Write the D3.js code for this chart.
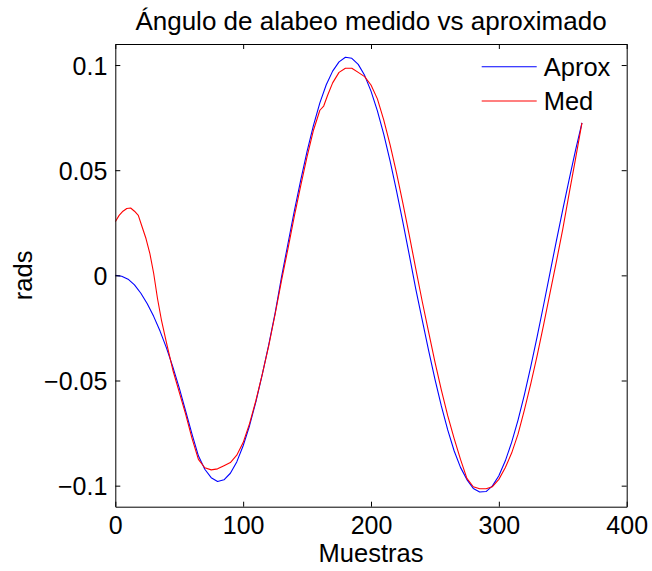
<!DOCTYPE html>
<html>
<head>
<meta charset="utf-8">
<script src="https://cdn.jsdelivr.net/npm/d3@7"></script>
<style>
  body { margin: 0; background: #fff; }
  #chart { width: 652px; height: 571px; }
  text { font-family: "Liberation Sans", Arial, Helvetica, sans-serif; fill: #000; }
</style>
</head>
<body>
<div id="chart"></div>
<script>
// samples
const aproxX = [0,5,10,15,20,25,30,35,40,45,50,55,60,65,70,75,80,85,90,95,100,105,110,115,120,125,130,135,140,145,150,155,160,165,170,175,180,185,190,195,200,205,210,215,220,225,230,235,240,245,250,255,260,265,270,275,280,285,290,295,300,305,310,315,320,325,330,335,340,345,350,355,360,365];
const aproxY = [0,-0.0004,-0.0018,-0.0045,-0.0085,-0.0135,-0.0195,-0.0265,-0.0345,-0.0435,-0.0535,-0.0645,-0.0755,-0.0858,-0.0922,-0.0962,-0.098,-0.0972,-0.0941,-0.0887,-0.081,-0.0715,-0.060,-0.047,-0.033,-0.018,-0.0008,0.0149,0.0305,0.0452,0.059,0.0713,0.082,0.0906,0.0971,0.1015,0.1037,0.1032,0.1003,0.0951,0.0876,0.0782,0.067,0.0542,0.0401,0.0251,0.0095,-0.0064,-0.021,-0.0356,-0.0493,-0.0621,-0.0735,-0.0834,-0.0913,-0.0971,-0.1013,-0.103,-0.1028,-0.1001,-0.0953,-0.0883,-0.0794,-0.0688,-0.0567,-0.0433,-0.029,-0.0141,0.0012,0.0164,0.0313,0.0456,0.0595,0.0725];

const medX = [0,3,6,9,12,15,18,21,24,27,30,33,36,40,45,50,55,60,65,70,75,80,85,90,95,100,105,110,115,120,125,130,135,140,145,150,155,160,163,166,170,175,180,185,190,195,200,205,210,215,220,225,230,235,240,245,250,255,260,265,270,275,280,285,290,295,300,305,310,315,320,325,330,335,340,345,350,355,360,365];
const medY = [0.0255,0.0285,0.0305,0.0318,0.032,0.0305,0.0285,0.023,0.0175,0.0105,0.001,-0.011,-0.021,-0.032,-0.045,-0.0555,-0.066,-0.0775,-0.0875,-0.0915,-0.0925,-0.092,-0.0905,-0.089,-0.0855,-0.0795,-0.0705,-0.0595,-0.047,-0.0335,-0.0185,-0.0025,0.0125,0.028,0.0425,0.0565,0.069,0.0785,0.0805,0.0855,0.0915,0.0965,0.0985,0.0985,0.0965,0.0945,0.0905,0.0839,0.0738,0.0619,0.0486,0.0341,0.0189,0.0032,-0.0122,-0.0268,-0.0411,-0.0544,-0.0667,-0.0775,-0.0875,-0.0965,-0.1005,-0.1015,-0.1015,-0.1005,-0.097,-0.0915,-0.0845,-0.0755,-0.064,-0.0515,-0.038,-0.0235,-0.0085,0.0065,0.022,0.039,0.0555,0.0725];

const xTicks = [0, 100, 200, 300, 400];
const yTicks = [-0.1, -0.05, 0, 0.05, 0.1];
const yTickLabels = ["\u22120.1", "\u22120.05", "0", "0.05", "0.1"];
const seriesNames = ["Aprox", "Med"];
const seriesColors = ["#0000ff", "#ff0000"];

const width = 652, height = 571;
const margin = { top: 44, right: 25.3, bottom: 64.3, left: 115.3 };
const fontSize = 25;
const tickLen = 5;

const svg = d3.select("#chart").append("svg")
    .attr("width", width)
    .attr("height", height);

const x = d3.scaleLinear().domain([0, 400]).range([margin.left, width - margin.right]);
const y = d3.scaleLinear().domain([-0.11, 0.11]).range([height - margin.bottom, margin.top]);

svg.append("defs").append("clipPath").attr("id", "plotClip")
    .append("rect")
    .attr("x", x.range()[0]).attr("y", y.range()[1])
    .attr("width", x.range()[1] - x.range()[0])
    .attr("height", y.range()[0] - y.range()[1]);

// curves
const line = d3.line()
    .x(d => x(d[0]))
    .y(d => y(d[1]));

const series = [
    d3.zip(aproxX, aproxY),
    d3.zip(medX, medY)
];

svg.append("g").attr("clip-path", "url(#plotClip)")
    .selectAll("path")
    .data(series)
    .enter().append("path")
    .attr("d", line)
    .attr("fill", "none")
    .attr("stroke", (d, i) => seriesColors[i])
    .attr("stroke-width", 1.1)
    .attr("stroke-linejoin", "round");

// axes, matlab style: ticks inside on all four sides
const axBottom = svg.append("g").attr("transform", `translate(0,${y.range()[0]})`)
    .call(d3.axisBottom(x).tickValues(xTicks).tickSizeInner(-tickLen).tickSizeOuter(0).tickPadding(10));
const axTop = svg.append("g").attr("transform", `translate(0,${y.range()[1]})`)
    .call(d3.axisTop(x).tickValues(xTicks).tickSizeInner(-tickLen).tickSizeOuter(0).tickFormat(""));
const axLeft = svg.append("g").attr("transform", `translate(${x.range()[0]},0)`)
    .call(d3.axisLeft(y).tickValues(yTicks).tickSizeInner(-tickLen).tickSizeOuter(0).tickPadding(8)
        .tickFormat((d, i) => yTickLabels[i]));
const axRight = svg.append("g").attr("transform", `translate(${x.range()[1]},0)`)
    .call(d3.axisRight(y).tickValues(yTicks).tickSizeInner(-tickLen).tickSizeOuter(0).tickFormat(""));

[axBottom, axTop, axLeft, axRight].forEach(g => {
    g.select(".domain").attr("stroke", "#000").attr("stroke-width", 1);
    g.selectAll(".tick line").attr("stroke", "#000").attr("stroke-width", 1);
    g.selectAll(".tick text")
        .attr("font-size", fontSize + "px")
        .attr("font-family", "'Liberation Sans', Arial, sans-serif")
        .attr("fill", "#000");
});
axBottom.selectAll(".tick text").attr("dy", "0.71em");
axLeft.selectAll(".tick text").attr("dy", "0.36em");

// labels
svg.append("text")
    .attr("x", (x.range()[0] + x.range()[1]) / 2)
    .attr("y", 30)
    .attr("text-anchor", "middle")
    .attr("font-size", "26px")
    .text("Ángulo de alabeo medido vs aproximado");

svg.append("text")
    .attr("x", (x.range()[0] + x.range()[1]) / 2)
    .attr("y", 561.5)
    .attr("text-anchor", "middle")
    .attr("font-size", "25.5px")
    .text("Muestras");

svg.append("text")
    .attr("transform", `translate(32,${(y.range()[0] + y.range()[1]) / 2}) rotate(-90)`)
    .attr("text-anchor", "middle")
    .attr("font-size", "25.5px")
    .text("rads");

// legend (no box)
const legend = svg.append("g").attr("transform", "translate(481.7,66.7)");
const item = legend.selectAll("g")
    .data(seriesNames)
    .enter().append("g")
    .attr("transform", (d, i) => `translate(0,${i * 34.3})`);
item.append("line")
    .attr("x1", 0).attr("x2", 55)
    .attr("stroke", (d, i) => seriesColors[i])
    .attr("stroke-width", 1.1);
item.append("text")
    .attr("x", 62)
    .attr("dy", "0.36em")
    .attr("font-size", "25.5px")
    .text(d => d);
</script>
</body>
</html>
